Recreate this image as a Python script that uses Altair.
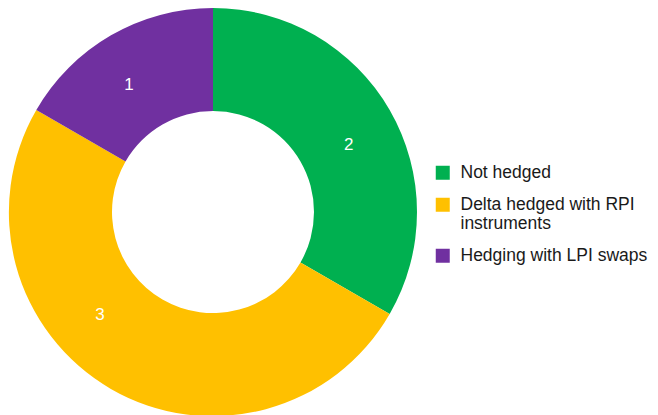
import altair as alt
import pandas as pd

categories = ["Not hedged", "Delta hedged with RPI instruments", "Hedging with LPI swaps"]
values = [2, 3, 1]
colors = ["#00B050", "#FFC000", "#7030A0"]
order = [0, 1, 2]

# label nudges (style only), per category
label_dx = [4, -37, -8]
label_dy = [9, -29, 5]

df = pd.DataFrame({"category": categories, "value": values, "order": order})

base = alt.Chart(df).encode(
    theta=alt.Theta("value:Q", stack=True),
    order=alt.Order("order:Q"),
)

arc = base.mark_arc(outerRadius=204, innerRadius=101).encode(
    color=alt.Color(
        "category:N",
        scale=alt.Scale(domain=categories, range=colors),
        legend=alt.Legend(
            orient="none",
            legendX=426,
            legendY=154,
            title=None,
            padding=0,
            symbolType="square",
            symbolSize=196,
            symbolStrokeWidth=0,
            labelFontSize=17.5,
            labelFont="Liberation Sans",
            labelColor="#1a1a1a",
            labelOffset=9,
            labelLimit=300,
            rowPadding=13,
            labelExpr="datum.label == 'Delta hedged with RPI instruments' ? ['Delta hedged with RPI', 'instruments'] : datum.label",
        ),
    )
)

layers = [arc]
for cat, ddx, ddy in zip(categories, label_dx, label_dy):
    layers.append(
        base.mark_text(
            radius=152, fontSize=17, color="white", font="Liberation Sans", dx=ddx, dy=ddy
        ).encode(
            text=alt.condition(alt.datum.category == cat, "value:Q", alt.value(""))
        )
    )

chart = alt.layer(*layers).properties(width=410, height=404, padding=0).configure_view(stroke=None)

chart.save("out.html", embed_options={"renderer": "svg", "actions": False})
